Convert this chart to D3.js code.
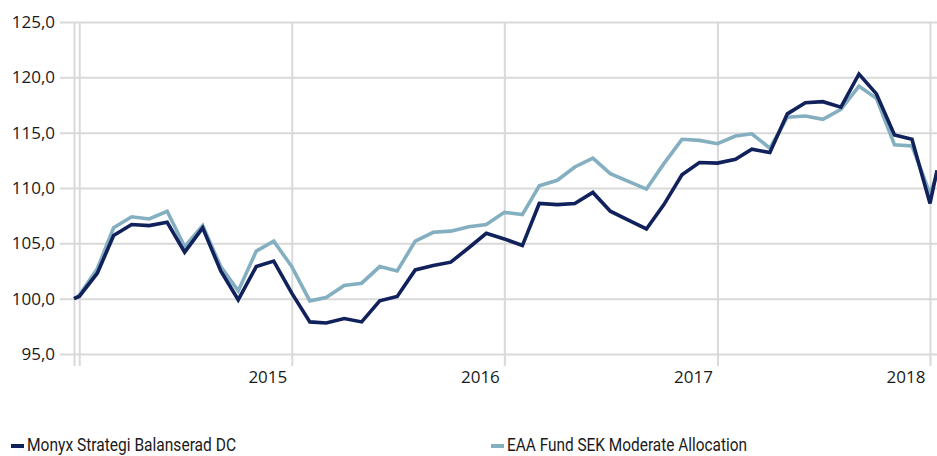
<!DOCTYPE html>
<html>
<head>
<meta charset="utf-8">
<script src="https://cdn.jsdelivr.net/npm/d3@7"></script>
<style>
  body { margin: 0; background: #fff; }
  .axis text { font-family: "Open Sans", sans-serif; font-size: 17px; fill: #1a1a1a; }
  .axis line { stroke: #d9d9d9; stroke-width: 2; }
  .axis path { display: none; }
  .legend text { font-family: "Liberation Sans Narrow", "Roboto", sans-serif; font-size: 19px; fill: #1a1a1a; }
</style>
</head>
<body>
<div id="chart"></div>
<script>
// series names
let seriesNames = ["Monyx Strategi Balanserad DC", "EAA Fund SEK Moderate Allocation"];

// observation dates: start date, monthly 2014-01..2018-01, last date
let dates = ["2013-12-23"];
for (let yr = 2014; yr <= 2017; yr++) {
    for (let m = 1; m <= 12; m++) dates.push(yr + "-" + String(m).padStart(2, "0") + "-01");
}
dates.push("2018-01-01");
dates.push("2018-01-13");

let monyx = [100.0,
    100.2, 102.3, 105.7, 106.7, 106.6, 106.9, 104.2, 106.4, 102.5, 99.9, 102.9, 103.4,
    100.5, 97.9, 97.8, 98.2, 97.9, 99.8, 100.2, 102.6, 103.0, 103.3, 104.6, 105.9,
    105.4, 104.8, 108.6, 108.5, 108.6, 109.6, 107.9, 107.1, 106.3, 108.5, 111.2, 112.3,
    112.25, 112.6, 113.5, 113.2, 116.7, 117.7, 117.8, 117.3, 120.3, 118.5, 114.8, 114.4,
    108.6, 111.6];

let eaa = [100.0,
    100.3, 102.7, 106.4, 107.4, 107.2, 107.9, 104.7, 106.6, 102.9, 100.7, 104.3, 105.2,
    102.9, 99.8, 100.1, 101.2, 101.4, 102.9, 102.5, 105.2, 106.0, 106.1, 106.5, 106.7,
    107.8, 107.6, 110.2, 110.7, 111.9, 112.7, 111.3, 110.6, 109.9, 112.2, 114.4, 114.3,
    114.0, 114.7, 114.9, 113.6, 116.4, 116.5, 116.2, 117.1, 119.2, 118.1, 113.9, 113.8,
    109.5, 111.2];

let yTicks = [95, 100, 105, 110, 115, 120, 125];
let xTickDates = ["2013-12-23", "2014-01-01", "2015-01-01", "2016-01-01", "2017-01-01", "2018-01-01"];
let colors = ["#10215c", "#84afc0"];

let parse = d3.utcParse("%Y-%m-%d");
let W = 937, H = 456;

let svg = d3.select("#chart").append("svg")
    .attr("width", W)
    .attr("height", H);

let x = d3.scaleUtc()
    .domain(d3.extent(dates, d => parse(d)))
    .range([74, 937]);

let y = d3.scaleLinear()
    .domain([95, 125])
    .range([354, 22]);

let fmt = d3.formatLocale({decimal: ",", thousands: " ", grouping: [3], currency: ["", " kr"]}).format(".1f");

// y gridlines + labels
let yAxis = d3.axisLeft(y)
    .tickValues(yTicks)
    .tickSize(937 - 60)
    .tickPadding(5)
    .tickFormat(fmt);

svg.append("g")
    .attr("class", "y-axis axis")
    .attr("transform", "translate(937,0)")
    .call(yAxis);

// x gridlines + labels
let xAxis = d3.axisBottom(x)
    .tickValues(xTickDates.map(parse))
    .tickSize(-(366 - 22))
    .tickPadding(5)
    .tickFormat(d => d.getUTCFullYear() >= 2015 ? d.getUTCFullYear() : "");

let gx = svg.append("g")
    .attr("class", "x-axis axis")
    .attr("transform", "translate(0,366)")
    .call(xAxis);
gx.selectAll("text")
    .attr("text-anchor", "end")
    .attr("dx", -5);

// clip to plot
svg.append("defs").append("clipPath")
    .attr("id", "clip")
    .append("rect")
    .attr("x", 0).attr("y", 0)
    .attr("width", 937).attr("height", H);

let line = d3.line()
    .x((d, i) => x(parse(dates[i])))
    .y(d => y(d));

// light series below, dark on top
[eaa, monyx].forEach((s, i) => {
    svg.append("path")
        .attr("clip-path", "url(#clip)")
        .attr("fill", "none")
        .attr("stroke", colors[1 - i])
        .attr("stroke-width", 3.6)
        .attr("stroke-linejoin", "miter")
        .attr("d", line(s));
});

// legend
let legendX = [11, 491];
let legendW = [209, 240];
let lg = svg.append("g").attr("class", "legend");
seriesNames.forEach((name, i) => {
    lg.append("rect")
        .attr("x", legendX[i])
        .attr("y", 444)
        .attr("width", 13)
        .attr("height", 4)
        .attr("fill", colors[i]);
    lg.append("text")
        .attr("x", legendX[i] + 16)
        .attr("y", 451)
        .attr("textLength", legendW[i])
        .attr("lengthAdjust", "spacingAndGlyphs")
        .text(name);
});
</script>
</body>
</html>
